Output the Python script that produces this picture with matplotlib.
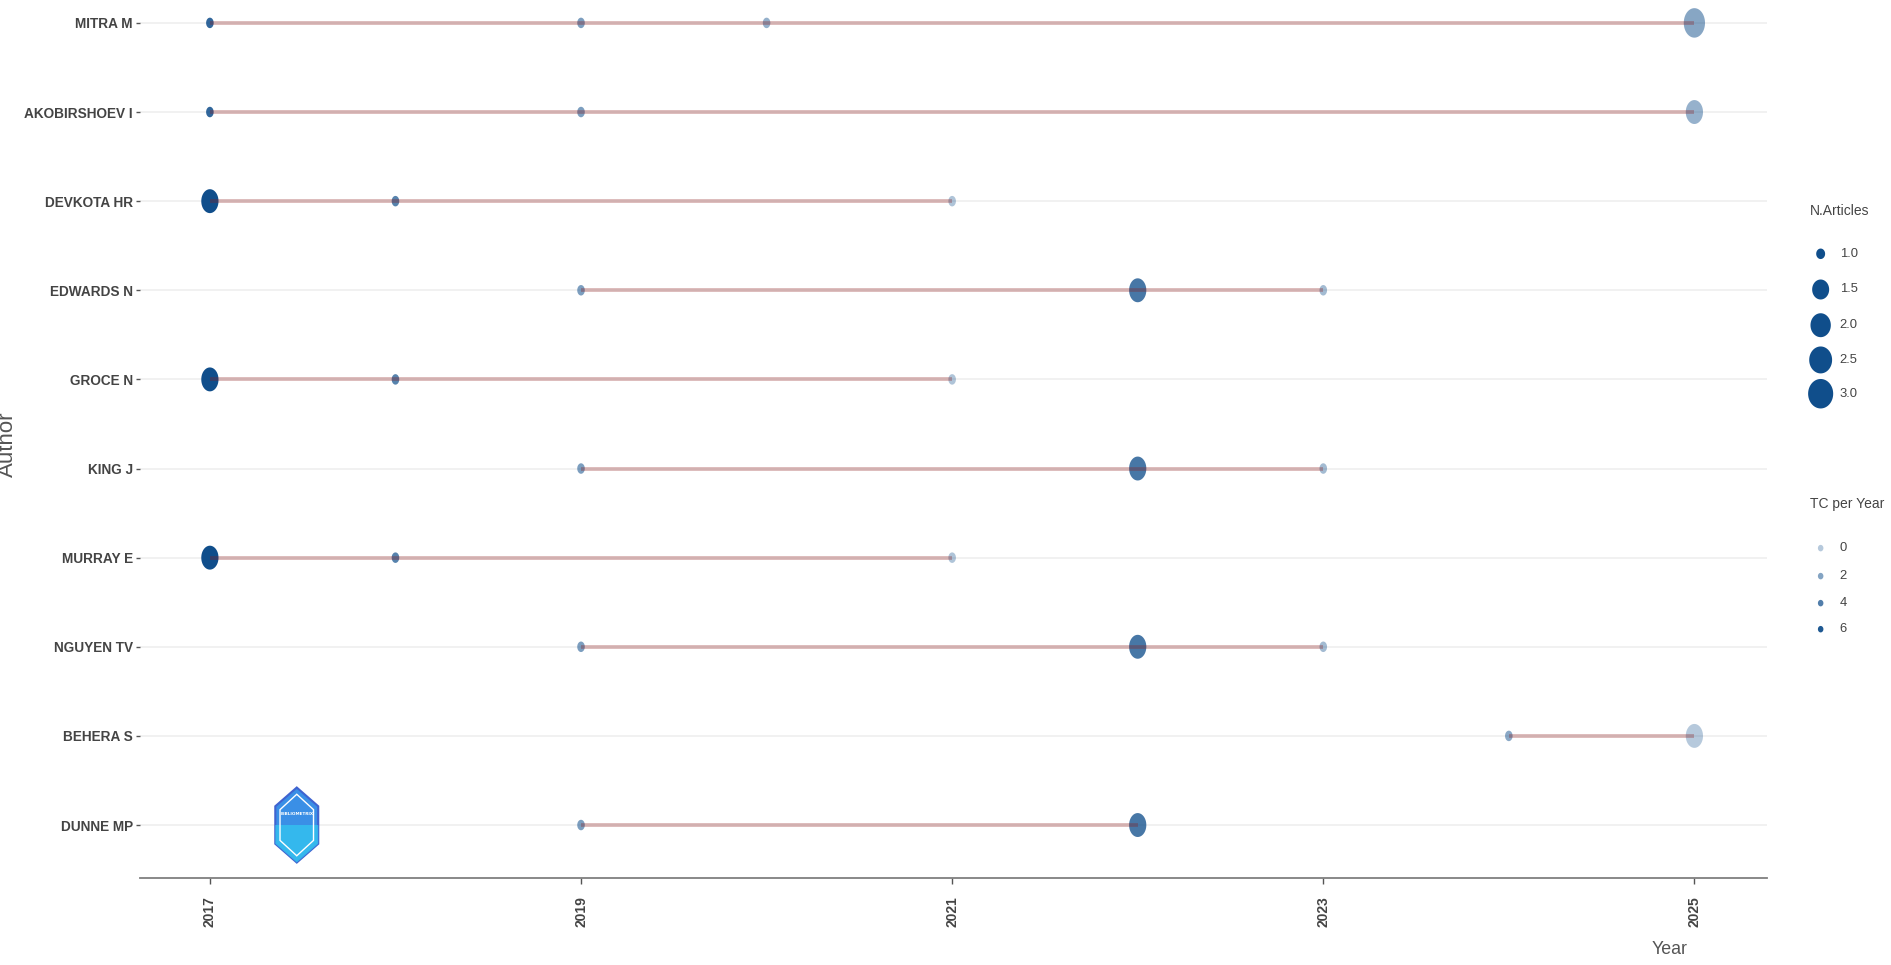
import numpy as np
import matplotlib
matplotlib.use('Agg')
import matplotlib.pyplot as plt
from matplotlib import font_manager as fm
from matplotlib.path import Path
from matplotlib.patches import Polygon
from matplotlib.colors import to_rgba

# authors, top to bottom
authors = ['MITRA M', 'AKOBIRSHOEV I', 'DEVKOTA HR', 'EDWARDS N', 'GROCE N',
           'KING J', 'MURRAY E', 'NGUYEN TV', 'BEHERA S', 'DUNNE MP']

# one entry per (author, year) point
pt_author = ['MITRA M', 'MITRA M', 'MITRA M', 'MITRA M',
             'AKOBIRSHOEV I', 'AKOBIRSHOEV I', 'AKOBIRSHOEV I',
             'DEVKOTA HR', 'DEVKOTA HR', 'DEVKOTA HR',
             'EDWARDS N', 'EDWARDS N', 'EDWARDS N',
             'GROCE N', 'GROCE N', 'GROCE N',
             'KING J', 'KING J', 'KING J',
             'MURRAY E', 'MURRAY E', 'MURRAY E',
             'NGUYEN TV', 'NGUYEN TV', 'NGUYEN TV',
             'BEHERA S', 'BEHERA S',
             'DUNNE MP', 'DUNNE MP']
pt_year = [2017, 2019, 2020, 2025,
           2017, 2019, 2025,
           2017, 2018, 2021,
           2019, 2022, 2023,
           2017, 2018, 2021,
           2019, 2022, 2023,
           2017, 2018, 2021,
           2019, 2022, 2023,
           2024, 2025,
           2019, 2022]
pt_articles = [1, 1, 1, 3,
               1, 1, 2,
               2, 1, 1,
               1, 2, 1,
               2, 1, 1,
               1, 2, 1,
               2, 1, 1,
               1, 2, 1,
               1, 2,
               1, 2]
pt_tc = [5.3, 2.3, 1.4, 1.9,
         5.3, 2.3, 1.3,
         6.6, 3.8, 0.3,
         2.3, 4.4, 0.8,
         6.6, 3.8, 0.3,
         2.3, 4.4, 0.8,
         6.6, 3.8, 0.3,
         2.3, 4.4, 0.8,
         1.8, 0.0,
         2.3, 4.4]

size_breaks = [1.0, 1.5, 2.0, 2.5, 3.0]
tc_breaks = [0, 2, 4, 6]
year_ticks = [2017, 2019, 2021, 2023, 2025]

POINT_COL = '#104E8B'    # dodgerblue4
LINE_COL = '#8B1A1A'     # firebrick4
TXT = '#444444'

# the reference text is condensed; use a narrow face if there is one
installed = {f.name for f in fm.fontManager.ttflist}
if 'Liberation Sans Narrow' in installed:
    NARROW = ['Liberation Sans Narrow', 'DejaVu Sans']
    k = 1.0
else:
    NARROW = ['Liberation Sans', 'DejaVu Sans']
    k = 0.85


def ellipse(ratio):
    th = np.linspace(0, 2 * np.pi, 60)
    return Path(np.column_stack([ratio * np.cos(th), np.sin(th)]), closed=True)


# image is squeezed horizontally, so markers are upright ellipses
ELL = ellipse(0.72)
ELL_LEG = ellipse(0.85)

n_min, n_max = min(pt_articles), max(pt_articles)
tc_min, tc_max = 0.0, max(pt_tc)


def marker_s(n):
    h_px = 10.5 + 19 * np.sqrt((n - n_min) / (n_max - n_min))
    return (h_px * 0.72) ** 2


def tc_alpha(t):
    return 0.3 + 0.7 * (t - tc_min) / (tc_max - tc_min)


fig = plt.figure(figsize=(18.91, 9.65), dpi=100)
ax = fig.add_axes([0.074, 0.09, 0.8603, 0.91])

row = {a: len(authors) - i for i, a in enumerate(authors)}

# points
ys = [row[a] for a in pt_author]
cols = [to_rgba(POINT_COL, tc_alpha(t)) for t in pt_tc]
sizes = [marker_s(n) for n in pt_articles]
ax.scatter(pt_year, ys, s=sizes, c=cols, marker=ELL, linewidths=0, zorder=3)

# lines on top (as in the original)
for a in authors:
    yrs = [y for y, b in zip(pt_year, pt_author) if b == a]
    ax.plot([min(yrs), max(yrs)], [row[a], row[a]], color=LINE_COL,
            alpha=0.3, lw=2.8, solid_capstyle='butt', zorder=4)

ax.set_xlim(2016.623, 2025.39)
ax.set_ylim(0.404, 10.257)
ax.set_yticks([row[a] for a in authors])
ax.set_yticklabels(authors, fontfamily=NARROW, fontweight='bold',
                   fontsize=11.5 * k, color=TXT)
ax.set_xticks(year_ticks)
ax.set_xticklabels([str(y) for y in year_ticks], rotation=90,
                   fontfamily=['Liberation Sans', 'DejaVu Sans'],
                   fontweight='bold', fontsize=10, color=TXT)
ax.tick_params(axis='y', length=3, width=1, color='#555555', pad=2)
ax.tick_params(axis='x', length=4, width=1, color='#555555', pad=9)
ax.grid(axis='y', color='#EFEFEF', lw=1.2, zorder=0)
ax.set_axisbelow(True)
for sp in ['top', 'right', 'left']:
    ax.spines[sp].set_visible(False)
ax.spines['bottom'].set_color('#7F7F7F')
ax.spines['bottom'].set_linewidth(1.3)

# axis titles
fig.text(0.0095, 0.54, 'Author', rotation=90, ha='right', va='center',
         fontsize=16, color='#555555', fontfamily=NARROW)
fig.text(0.883, 0.016, 'Year', ha='center', va='center', fontsize=15 * k,
         color='#555555', fontfamily=NARROW)

# bibliometrix logo (approximate hexagon badge)
cx, cy, hw, hh = 0.0964, 0.0605, 0.0132, 0.0427
hexv = [(cx, cy + hh), (cx + hw, cy + hh / 2), (cx + hw, cy - hh / 2),
        (cx, cy - hh), (cx - hw, cy - hh / 2), (cx - hw, cy + hh / 2)]
ax.add_patch(Polygon(hexv, closed=True, transform=ax.transAxes,
                     facecolor='#3A8FE6', edgecolor='#3F63D0', lw=1.5,
                     zorder=5, clip_on=False))
lower = [(cx + hw, cy), (cx + hw, cy - hh / 2), (cx, cy - hh),
         (cx - hw, cy - hh / 2), (cx - hw, cy)]
ax.add_patch(Polygon(lower, closed=True, transform=ax.transAxes,
                     facecolor='#33C3F0', edgecolor='none', zorder=5,
                     alpha=0.8, clip_on=False))
inner = [(cx + (x - cx) * 0.78, cy + (y - cy) * 0.82) for x, y in hexv]
ax.add_patch(Polygon(inner, closed=True, transform=ax.transAxes,
                     facecolor='none', edgecolor='white', lw=1.0, zorder=6,
                     clip_on=False))
ax.text(cx, cy + hh * 0.3, 'BIBLIOMETRIX', transform=ax.transAxes,
        ha='center', va='center', fontsize=3, color='white',
        fontweight='bold', zorder=7)

# legends
lg = fig.add_axes([0, 0, 1, 1])
lg.set_xlim(0, 1)
lg.set_ylim(0, 1)
lg.axis('off')
lg.patch.set_alpha(0)

LX, MX, TX = 0.957, 0.9628, 0.9728
fig.text(LX, 0.781, 'N.Articles', ha='left', va='center',
         fontsize=11.8 * k, color=TXT, fontfamily=NARROW)
size_y = [0.737, 0.700, 0.663, 0.627, 0.592]
lg.scatter([MX] * len(size_breaks), size_y,
           s=[marker_s(v) for v in size_breaks], c=POINT_COL,
           marker=ELL_LEG, linewidths=0)
for v, y in zip(size_breaks, size_y):
    lg.text(TX, y, f'{v:.1f}', ha='left', va='center',
            fontsize=11 * k, color=TXT, fontfamily=NARROW)

fig.text(LX, 0.478, 'TC per Year', ha='left', va='center',
         fontsize=11.8 * k, color=TXT, fontfamily=NARROW)
tc_y = [0.432, 0.403, 0.375, 0.348]
lg.scatter([MX] * len(tc_breaks), tc_y, s=(6.5 * 0.72) ** 2,
           c=[to_rgba(POINT_COL, tc_alpha(t)) for t in tc_breaks],
           marker=ELL_LEG, linewidths=0)
for v, y in zip(tc_breaks, tc_y):
    lg.text(TX, y, str(v), ha='left', va='center', fontsize=11 * k,
            color=TXT, fontfamily=NARROW)

fig.savefig('out.png', dpi=100, facecolor='white')
